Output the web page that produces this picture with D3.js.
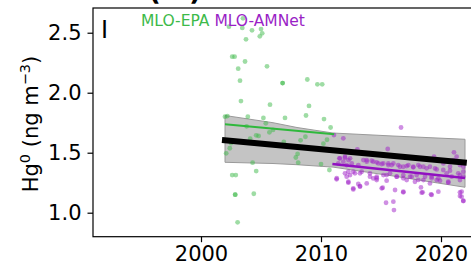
<!DOCTYPE html>
<html>
<head>
<meta charset="utf-8">
<script src="https://cdn.jsdelivr.net/npm/d3@7"></script>
<style>
  body { margin: 0; background: #fff; }
  svg { display: block; font-family: "DejaVu Sans", sans-serif; }
</style>
</head>
<body>
<div id="chart"></div>
<script>
// MLO-EPA observations (year, Hg0)
const epaYear = [2002.33, 2003.5, 2003.44, 2004.25, 2005.0, 2005.1, 2004.9, 2003.75, 2002.6, 2002.8,
  2003.67, 2003.1, 2005.5, 2003.25, 2006.8, 2006.8, 2008.86, 2009.7, 2010.1, 2003.33,
  2005.75, 2009.0, 2003.9, 2005.2, 2005.4, 2007.0, 2008.75, 2010.25, 2010.8, 2002.0,
  2002.2, 2003.8, 2005.7, 2004.6, 2004.1, 2002.5, 2002.4, 2002.1, 2004.3, 2004.6,
  2002.6, 2002.9, 2002.85, 2002.85, 2004.4, 2003.05, 2006.0, 2008.7, 2008.3, 2010.5,
  2010.2, 2006.9, 2008.05, 2007.9, 2008.1, 2010.0, 2010.7, 2004.8];
const epaHg = [2.55, 2.62, 2.54, 2.52, 2.53, 2.495, 2.47, 2.445, 2.30, 2.30,
  2.26, 2.20, 2.22, 2.10, 2.08, 2.08, 2.11, 2.07, 2.07, 1.93,
  1.90, 1.89, 1.80, 1.79, 1.745, 1.79, 1.81, 1.78, 1.71, 1.80,
  1.805, 1.72, 1.67, 1.645, 1.617, 1.58, 1.537, 1.495, 1.417, 1.347,
  1.314, 1.314, 1.15, 1.15, 1.158, 0.92, 1.69, 1.633, 1.603, 1.608,
  1.575, 1.59, 1.49, 1.46, 1.417, 1.405, 1.356, 1.64];

// MLO-AMNet observations (year, Hg0)
const amnetYear = [2011.08, 2011.86, 2016.67, 2011.58, 2012.0, 2012.42, 2011.44, 2011.86, 2012.14, 2012.56,
  2013.11, 2013.53, 2013.81, 2014.36, 2014.78, 2015.2, 2015.61, 2016.03, 2016.44, 2016.86,
  2017.28, 2017.69, 2018.11, 2018.53, 2019.08, 2019.5, 2020.2, 2020.75, 2021.03, 2021.3,
  2021.58, 2021.86, 2012.28, 2012.0, 2012.42, 2012.14, 2012.83, 2013.39, 2014.08, 2014.64,
  2014.36, 2015.2, 2015.75, 2016.31, 2016.86, 2017.42, 2017.97, 2018.67, 2019.22, 2019.78,
  2020.47, 2020.89, 2021.58, 2021.86, 2011.3, 2012.28, 2013.11, 2013.81, 2014.64, 2015.47,
  2017.14, 2017.83, 2018.53, 2019.08, 2019.64, 2020.61, 2021.58, 2012.69, 2013.25, 2015.14,
  2016.17, 2016.86, 2018.33, 2018.47, 2019.17, 2019.78, 2021.58, 2021.72, 2021.86, 2015.42,
  2016.03, 2016.08, 2021.08, 2019.42, 2015.56, 2013.03, 2012.0, 2012.28, 2011.53, 2013.81,
  2014.22, 2014.64, 2015.06, 2015.61, 2015.89, 2016.58, 2017.14, 2017.69, 2018.25, 2018.8,
  2019.64, 2020.19, 2020.75, 2021.44, 2021.86, 2012.69, 2013.25, 2014.08, 2014.64, 2015.47,
  2016.31, 2016.86, 2017.56, 2018.11, 2019.22, 2019.92, 2020.61, 2011.31, 2012.28, 2012.69,
  2013.25, 2015.06, 2016.86, 2018.39, 2019.22, 2021.72, 2021.58, 2021.86];
const amnetHg = [1.647, 1.62, 1.71, 1.453, 1.467, 1.453, 1.411, 1.425, 1.397, 1.411,
  1.397, 1.439, 1.425, 1.425, 1.411, 1.411, 1.397, 1.411, 1.397, 1.383,
  1.397, 1.383, 1.397, 1.383, 1.383, 1.369, 1.411, 1.383, 1.439, 1.467,
  1.397, 1.383, 1.342, 1.328, 1.314, 1.30, 1.328, 1.342, 1.328, 1.30,
  1.286, 1.314, 1.328, 1.30, 1.314, 1.30, 1.314, 1.30, 1.30, 1.286,
  1.328, 1.30, 1.314, 1.30, 1.278, 1.25, 1.239, 1.244, 1.272, 1.267,
  1.272, 1.258, 1.272, 1.244, 1.272, 1.25, 1.272, 1.194, 1.217, 1.208,
  1.189, 1.17, 1.211, 1.17, 1.153, 1.175, 1.17, 1.133, 1.097, 1.083,
  1.092, 1.022, 1.503, 1.467, 1.531, 1.528, 1.458, 1.439, 1.453, 1.439,
  1.433, 1.42, 1.406, 1.411, 1.397, 1.383, 1.389, 1.378, 1.383, 1.37,
  1.361, 1.356, 1.35, 1.328, 1.342, 1.342, 1.328, 1.30, 1.287, 1.314,
  1.30, 1.287, 1.30, 1.273, 1.287, 1.267, 1.258, 1.287, 1.258, 1.203,
  1.222, 1.203, 1.175, 1.167, 1.148, 1.175, 1.139, 1.10];

// fitted trends
const epaTrendYear = [2002.0, 2011.1];
const epaTrendHg = [1.737, 1.653];
const amnetTrendYear = [2010.95, 2022.0];
const amnetTrendHg = [1.406, 1.289];
const allTrendYear = [2001.75, 2022.15];
const allTrendHg = [1.606, 1.417];

// confidence band of combined trend
const bandYear = [2002.0, 2006.0, 2008.0, 2011.0, 2016.0, 2022.0];
const bandLow = [1.42, 1.41, 1.40, 1.38, 1.306, 1.212];
const bandHigh = [1.81, 1.75, 1.71, 1.664, 1.639, 1.612];

const xTicks = [2000, 2010, 2020];
const yTicks = [1.0, 1.5, 2.0, 2.5];

const W = 471, H = 267;
const margin = { top: 8, left: 93 };
const width = 390, height = 228.7;

const svg = d3.select("#chart").append("svg")
    .attr("width", W)
    .attr("height", H);

const g = svg.append("g")
    .attr("transform", `translate(${margin.left},${margin.top})`);

const x = d3.scaleLinear().domain([1991, 2023.5]).range([0, width]);
const y = d3.scaleLinear().domain([0.8, 2.706]).range([height, 0]);

// panel title (mostly cut off at the top)
svg.append("text")
    .attr("x", 175).attr("y", -0.5)
    .attr("text-anchor", "middle")
    .attr("font-size", 27).attr("font-weight", "bold")
    .text("(m)");

// band
const area = d3.area()
    .x((d, i) => x(bandYear[i]))
    .y0((d, i) => y(bandLow[i]))
    .y1((d, i) => y(bandHigh[i]));

g.append("path")
    .datum(bandYear)
    .attr("d", area)
    .attr("fill", "#c4c4c4")
    .attr("stroke", "#9a9a9a")
    .attr("stroke-width", 1);

// scatter
g.selectAll(".epa")
    .data(epaYear)
    .join("circle")
    .attr("cx", d => x(d))
    .attr("cy", (d, i) => y(epaHg[i]))
    .attr("r", 2.4)
    .attr("fill", "#3dba4a")
    .attr("fill-opacity", 0.5);

g.selectAll(".amnet")
    .data(amnetYear)
    .join("circle")
    .attr("cx", d => x(d))
    .attr("cy", (d, i) => y(amnetHg[i]))
    .attr("r", 2.4)
    .attr("fill", "#a020c8")
    .attr("fill-opacity", 0.5);

// trend lines
const line = (xs, ys) => d3.line().x((d, i) => x(xs[i])).y((d, i) => y(ys[i]))(xs);

g.append("path")
    .attr("d", line(epaTrendYear, epaTrendHg))
    .attr("stroke", "#2fb83c").attr("stroke-width", 2).attr("fill", "none");

g.append("path")
    .attr("d", line(amnetTrendYear, amnetTrendHg))
    .attr("stroke", "#9010c0").attr("stroke-width", 2.4).attr("fill", "none");

g.append("path")
    .attr("d", line(allTrendYear, allTrendHg))
    .attr("stroke", "#000").attr("stroke-width", 6).attr("fill", "none");

// frame
g.append("rect")
    .attr("x", 0).attr("y", 0)
    .attr("width", width).attr("height", height)
    .attr("fill", "none")
    .attr("stroke", "#000")
    .attr("stroke-width", 1.2);

// axes
const xAxis = g.append("g")
    .attr("transform", `translate(0,${height})`)
    .call(d3.axisBottom(x).tickValues(xTicks).tickFormat(d3.format("d")).tickSize(5.5).tickPadding(4));
const yAxis = g.append("g")
    .call(d3.axisLeft(y).tickValues(yTicks).tickFormat(d3.format(".1f")).tickSize(5.5).tickPadding(6));

[xAxis, yAxis].forEach(a => {
  a.select(".domain").remove();
  a.selectAll("text").attr("font-size", 21).attr("font-family", "DejaVu Sans").attr("fill", "#000");
  a.selectAll("line").attr("stroke", "#000").attr("stroke-width", 1.2);
});

// y label
const yl = svg.append("text")
    .attr("transform", "translate(38,124) rotate(-90)")
    .attr("text-anchor", "middle")
    .attr("font-size", 21);
yl.append("tspan").text("Hg");
yl.append("tspan").attr("font-size", 14.5).attr("dy", -8).text("0");
yl.append("tspan").attr("dy", 8).text(" (ng m");
yl.append("tspan").attr("font-size", 14.5).attr("dy", -8).text("\u22123");
yl.append("tspan").attr("dy", 8).text(")");

// legend text
const lg = svg.append("text")
    .attr("x", 141).attr("y", 26)
    .attr("font-size", 15.5);
lg.append("tspan").attr("fill", "#3dba4a").text("MLO-EPA ");
lg.append("tspan").attr("fill", "#9a1fc6").text("MLO-AMNet");

// panel letter
svg.append("text")
    .attr("x", 101).attr("y", 38)
    .attr("font-size", 24)
    .text("I");
</script>
</body>
</html>
